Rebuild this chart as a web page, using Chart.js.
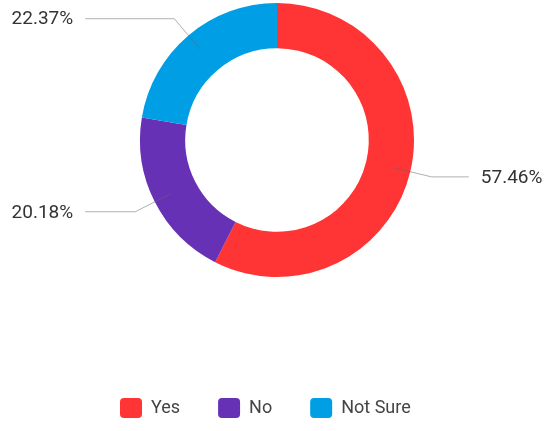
<!DOCTYPE html>
<html>
<head>
<meta charset="utf-8">
<script src="https://cdn.jsdelivr.net/npm/chart.js@4/dist/chart.umd.min.js"></script>
<style>
  html, body { margin: 0; padding: 0; background: #fff; }
  #wrap { width: 550px; height: 431px; }
</style>
</head>
<body>
<div id="wrap"><canvas id="c" width="550" height="431"></canvas></div>
<script>
const categories = ['Yes', 'No', 'Not Sure'];
const values = [57.46, 20.18, 22.37];
const colors = ['#ff3434', '#6731b5', '#009ee5'];

const leaderPlugin = {
  id: 'leaders',
  afterDatasetsDraw(chart) {
    const ctx = chart.ctx;
    const meta = chart.getDatasetMeta(0);
    const data = chart.data.datasets[0].data;
    ctx.save();
    meta.data.forEach((arc, i) => {
      const p = arc.getProps(['x', 'y', 'startAngle', 'endAngle', 'outerRadius'], true);
      const mid = (p.startAngle + p.endAngle) / 2;
      const c = Math.cos(mid), s = Math.sin(mid);
      const r1 = p.outerRadius * 0.87, r2 = p.outerRadius * 1.16;
      const right = c >= 0;
      const xEnd = p.x + (right ? 1 : -1) * p.outerRadius * 1.4;
      const ex = p.x + c * r2, ey = p.y + s * r2;
      ctx.beginPath();
      ctx.moveTo(p.x + c * r1, p.y + s * r1);
      ctx.lineTo(ex, ey);
      ctx.lineTo(xEnd, ey);
      ctx.strokeStyle = 'rgba(100,100,100,0.5)';
      ctx.lineWidth = 1;
      ctx.stroke();
      ctx.font = '19px Roboto';
      ctx.fillStyle = '#333';
      ctx.textBaseline = 'middle';
      ctx.textAlign = right ? 'left' : 'right';
      ctx.fillText(data[i].toFixed(2) + '%', xEnd + (right ? 12 : -12), ey + 1);
    });
    ctx.restore();
  }
};

new Chart(document.getElementById('c'), {
  type: 'doughnut',
  data: {
    labels: categories,
    datasets: [{
      data: values,
      backgroundColor: colors,
      borderWidth: 0,
      radius: 137,
      cutout: '67%'
    }]
  },
  options: {
    responsive: false,
    animation: false,
    layout: { padding: { top: 0, bottom: 3, left: 82, right: 78 } },
    plugins: {
      tooltip: { enabled: false },
      legend: {
        position: 'bottom',
        align: 'start',
        title: { display: true, text: '', font: { size: 10, lineHeight: 1 }, padding: { top: 70, bottom: 0 } },
        labels: {
          boxWidth: 22,
          boxHeight: 20,
          useBorderRadius: true,
          borderRadius: 4,
          padding: 38,
          color: '#444',
          font: { family: 'Roboto', size: 18 }
        }
      }
    }
  },
  plugins: [leaderPlugin]
});
</script>
</body>
</html>
